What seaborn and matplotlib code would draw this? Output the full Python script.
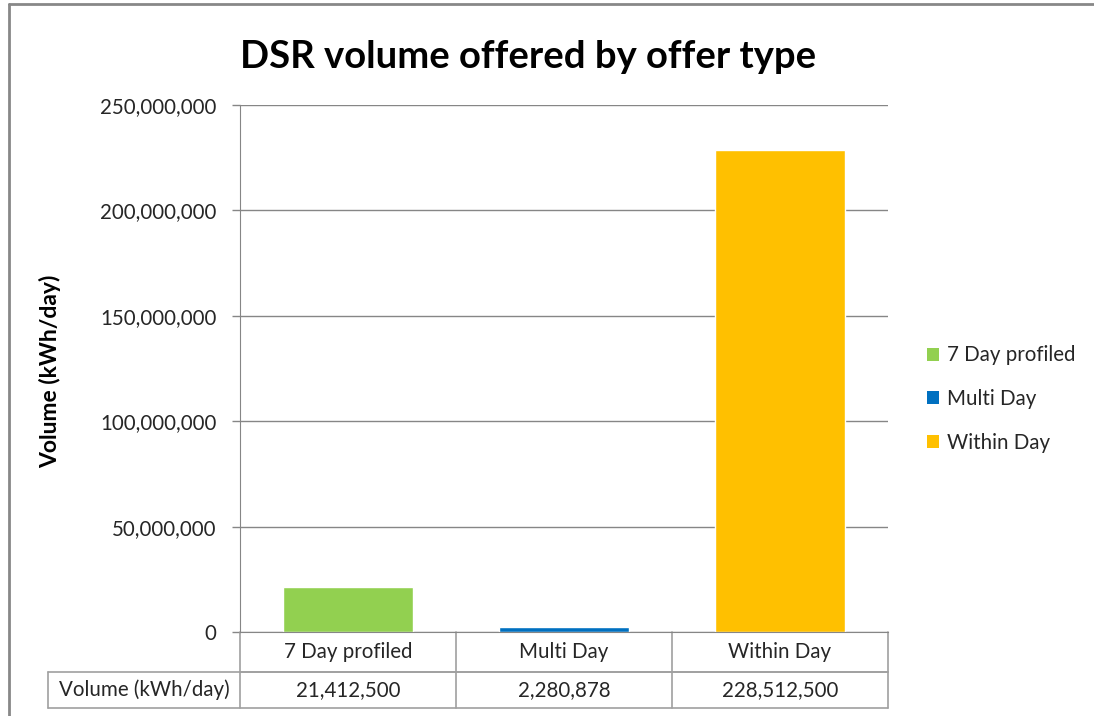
import pandas as pd
import seaborn as sns
import matplotlib.pyplot as plt
from matplotlib.patches import Patch
from matplotlib.ticker import FuncFormatter

# Chart data
offer_types = ['7 Day profiled', 'Multi Day', 'Within Day']
volumes = [21412500, 2280878, 228512500]
bar_colors = ['#92D050', '#0070C0', '#FFC000']
y_ticks = [0, 50000000, 100000000, 150000000, 200000000, 250000000]
row_label = 'Volume (kWh/day)'

data = pd.DataFrame({'Offer type': offer_types, 'Volume': volumes})

sns.set_style('white')
plt.rcParams['font.family'] = ['Lato', 'DejaVu Sans']

grid_col = '#868686'
text_col = '#262626'
fs = 14.8

fig = plt.figure(figsize=(10.94, 7.16), dpi=100)
ax = fig.add_axes([240 / 1094, 1 - 632 / 716, 648 / 1094, 527 / 716])

sns.barplot(x='Offer type', y='Volume', hue='Offer type', data=data,
            palette=bar_colors, width=0.6, dodge=False, legend=False,
            saturation=1, ax=ax)

ax.set_ylim(y_ticks[0], y_ticks[-1])
ax.set_xlim(-0.5, len(offer_types) - 0.5)
ax.set_yticks(y_ticks)
ax.yaxis.set_major_formatter(FuncFormatter(lambda v, p: f'{int(v):,}'))
ax.tick_params(axis='y', which='major', length=6, width=1, color=grid_col,
               pad=11, labelsize=fs, labelcolor=text_col, left=True)
ax.tick_params(axis='x', bottom=False, labelbottom=False)
ax.yaxis.grid(True, color=grid_col, linewidth=1)
ax.set_axisbelow(True)
for side in ['top', 'right']:
    ax.spines[side].set_visible(False)
ax.spines['left'].set_color(grid_col)
ax.spines['bottom'].set_color(grid_col)
ax.set_xlabel('')
ax.set_ylabel('')

# Data table under the plot (axes coords)
r1 = -40 / 527
r2 = -76 / 527
left_tab = (48 - 240) / 648
line_kw = dict(color='#A0A0A0', linewidth=1.2, transform=ax.transAxes, clip_on=False)
ax.plot([0, 1], [r1, r1], **line_kw)
ax.plot([left_tab, 1], [r1, r1], **line_kw)
ax.plot([left_tab, 1], [r2, r2], **line_kw)
ax.plot([left_tab, left_tab], [r1, r2], **line_kw)
ax.plot([0, 0], [0, r2], **line_kw)
ax.plot([1, 1], [0, r2], **line_kw)
for i in range(1, len(offer_types)):
    ax.plot([i / len(offer_types)] * 2, [0, r2], **line_kw)

for i, (name, val) in enumerate(zip(offer_types, volumes)):
    xc = (i + 0.5) / len(offer_types)
    ax.text(xc, r1 / 2, name, transform=ax.transAxes, ha='center', va='center',
            fontsize=fs, color=text_col)
    ax.text(xc, (r1 + r2) / 2, f'{val:,}', transform=ax.transAxes, ha='center',
            va='center', fontsize=fs, color=text_col)
ax.text(left_tab / 2, (r1 + r2) / 2, row_label, transform=ax.transAxes,
        ha='center', va='center', fontsize=fs, color=text_col)

# Legend
handles = [Patch(facecolor=c, edgecolor='none') for c in bar_colors]
fig.legend(handles, offer_types, loc='center left',
           bbox_to_anchor=(908 / 1094, 1 - 399 / 716), frameon=False,
           fontsize=fs, handlelength=0.6, handleheight=0.6, handletextpad=0.4,
           labelspacing=1.15, labelcolor=text_col)

# Title and axis label
fig.text(528 / 1094, 1 - 57 / 716, 'DSR volume offered by offer type',
         ha='center', va='center', fontsize=27.5, fontweight='bold', color='black')
fig.text(50 / 1094, 1 - 371 / 716, 'Volume (kWh/day)', rotation=90,
         ha='center', va='center', fontsize=16.5, fontweight='bold', color='black')

# Chart-area border (top and left visible in the reference)
fig.add_artist(plt.Line2D([9 / 1094, 1], [1 - 4 / 716, 1 - 4 / 716],
                          color='#888888', linewidth=2, transform=fig.transFigure))
fig.add_artist(plt.Line2D([9 / 1094, 9 / 1094], [0, 1 - 4 / 716],
                          color='#888888', linewidth=2, transform=fig.transFigure))

fig.savefig('out.png', dpi=100)
